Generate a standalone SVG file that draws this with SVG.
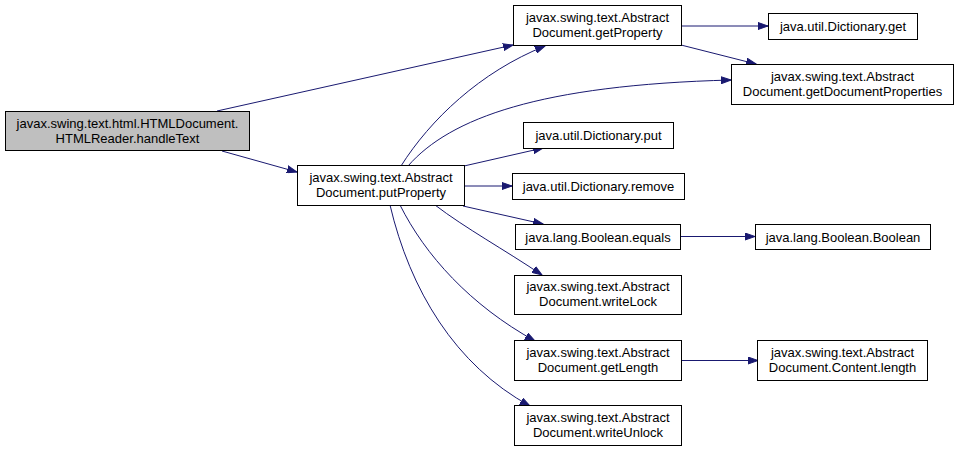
<svg xmlns="http://www.w3.org/2000/svg" width="959" height="452" viewBox="0 0 959 452">
<defs>
<style>
.n rect{fill:#ffffff;stroke:#000000;stroke-width:1}
.n.hl rect{fill:#bfbfbf}
.n text{font-family:"Liberation Sans",Arial,sans-serif;font-size:13px;fill:#000000;text-anchor:middle}
.e path{fill:none;stroke:#191970;stroke-width:1;marker-end:url(#ah)}
</style>
<marker id="ah" markerWidth="11" markerHeight="8" refX="10" refY="4" orient="auto" markerUnits="userSpaceOnUse">
<path d="M0,0.5 L10,4 L0,7.5 z" fill="#191970" stroke="#191970" stroke-width="1"/>
</marker>
</defs>
<rect width="959" height="452" fill="#ffffff"/>
<g class="e" id="edges">
<path d="M217,111 L513,45"/>
<path d="M222,151 L297,172"/>
<path d="M681,26 L768,26"/>
<path d="M681,45 L756,64"/>
<path d="M401,166 C430,120 480,72 545,46"/>
<path d="M408,166 C450,118 540,85 731,80"/>
<path d="M464,166 L543,148"/>
<path d="M464,186 L512,186"/>
<path d="M463,206 L543,224"/>
<path d="M435,205 C465,228 505,250 542,275"/>
<path d="M400,205 C425,255 470,305 535,341"/>
<path d="M390,205 C410,290 455,365 530,406"/>
<path d="M680,236.5 L755,236.5"/>
<path d="M681,360.5 L758,360.5"/>
</g>
<g class="n hl" id="handleText">
<rect x="5.5" y="111.5" width="244" height="39"/>
<text x="127.5" y="128">javax.swing.text.html.HTMLDocument.</text>
<text x="127.5" y="143">HTMLReader.handleText</text>
</g>
<g class="n" id="putProperty">
<rect x="297.5" y="165.5" width="167" height="40"/>
<text x="381" y="181.5">javax.swing.text.Abstract</text>
<text x="381" y="196.5">Document.putProperty</text>
</g>
<g class="n" id="getProperty">
<rect x="513.5" y="5.5" width="168" height="40"/>
<text x="597.5" y="21.5">javax.swing.text.Abstract</text>
<text x="597.5" y="36.5">Document.getProperty</text>
</g>
<g class="n" id="dictGet">
<rect x="768.5" y="13.5" width="149" height="26"/>
<text x="843" y="31">java.util.Dictionary.get</text>
</g>
<g class="n" id="getDocumentProperties">
<rect x="731.5" y="64.5" width="222" height="40"/>
<text x="842.5" y="80.5">javax.swing.text.Abstract</text>
<text x="842.5" y="95.5">Document.getDocumentProperties</text>
</g>
<g class="n" id="dictPut">
<rect x="523.5" y="122.5" width="150" height="26"/>
<text x="598.5" y="140">java.util.Dictionary.put</text>
</g>
<g class="n" id="dictRemove">
<rect x="512.5" y="173.5" width="172" height="26"/>
<text x="598.5" y="191">java.util.Dictionary.remove</text>
</g>
<g class="n" id="booleanEquals">
<rect x="515.5" y="224.5" width="165" height="25"/>
<text x="598" y="241.5">java.lang.Boolean.equals</text>
</g>
<g class="n" id="booleanBoolean">
<rect x="755.5" y="224.5" width="175" height="25"/>
<text x="843" y="241.5">java.lang.Boolean.Boolean</text>
</g>
<g class="n" id="writeLock">
<rect x="514.5" y="275.5" width="167" height="39"/>
<text x="598" y="291">javax.swing.text.Abstract</text>
<text x="598" y="306">Document.writeLock</text>
</g>
<g class="n" id="getLength">
<rect x="514.5" y="340.5" width="167" height="40"/>
<text x="598" y="356.5">javax.swing.text.Abstract</text>
<text x="598" y="371.5">Document.getLength</text>
</g>
<g class="n" id="contentLength">
<rect x="757.5" y="340.5" width="170" height="40"/>
<text x="842.5" y="356.5">javax.swing.text.Abstract</text>
<text x="842.5" y="371.5">Document.Content.length</text>
</g>
<g class="n" id="writeUnlock">
<rect x="514.5" y="405.5" width="167" height="40"/>
<text x="598" y="421.5">javax.swing.text.Abstract</text>
<text x="598" y="436.5">Document.writeUnlock</text>
</g>
</svg>
